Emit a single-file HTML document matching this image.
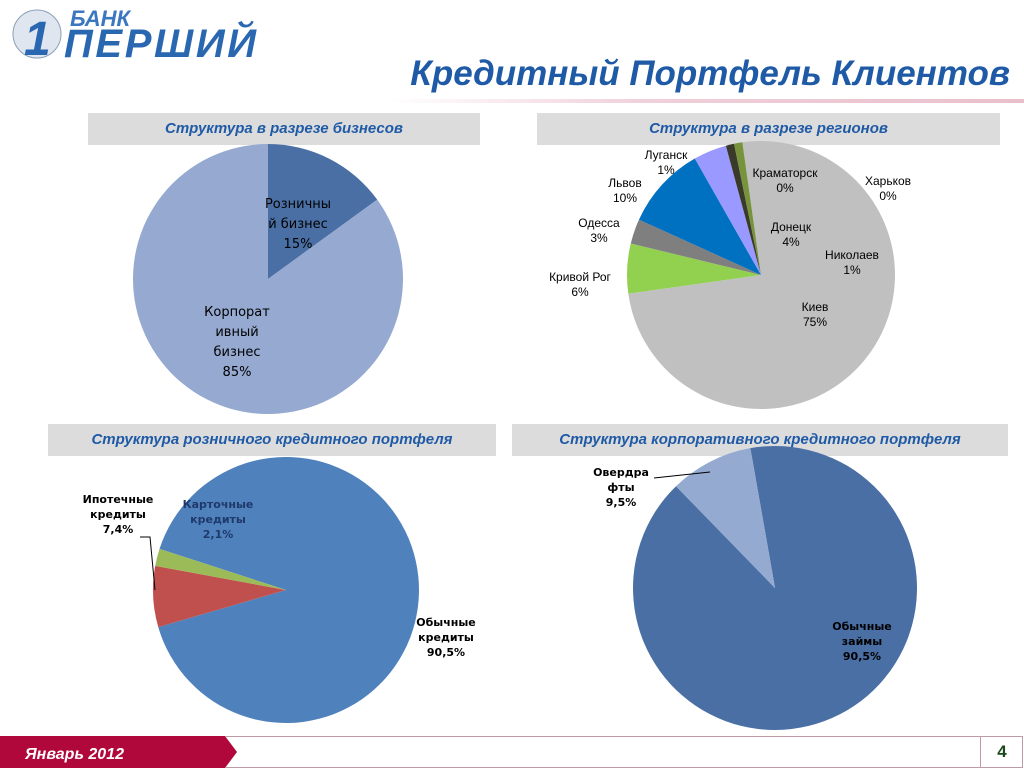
<!DOCTYPE html>
<html><head><meta charset="utf-8">
<style>
body{margin:0;width:1024px;height:768px;position:relative;background:#fff;font-family:"Liberation Sans",sans-serif;overflow:hidden}
.hdr{position:absolute;background:#dcdcdc;color:#1f5aa6;font-weight:bold;font-style:italic;font-size:15px;text-align:center;line-height:32px}
</style></head><body>
<div style="position:absolute;left:8px;top:2px;width:260px;height:60px">
 <svg width="260" height="60"><circle cx="29" cy="32" r="24" fill="#dfe6ef" stroke="#8aa0b8"/><text x="16" y="53" font-size="48" font-weight="bold" font-style="italic" fill="#2a67b1" font-family="Liberation Sans">1</text>
 <text x="62" y="24" font-size="22" font-weight="bold" font-style="italic" fill="#3b78c0" font-family="Liberation Sans">БАНК</text>
 <text x="56" y="55" font-size="40" font-weight="bold" font-style="italic" fill="#2a67b1" font-family="Liberation Sans" textLength="192">ПЕРШИЙ</text></svg>
</div>
<div style="position:absolute;left:370px;top:54px;width:640px;text-align:right;font-size:35px;font-weight:bold;font-style:italic;color:#1f5aa6">Кредитный Портфель Клиентов</div>
<div style="position:absolute;left:390px;top:99px;width:634px;height:4px;background:linear-gradient(90deg,#fff,#f0d0da 40%,#e8c0cc)"></div>
<div class="hdr" style="left:88px;top:113px;width:392px">Структура в разрезе бизнесов</div>
<div class="hdr" style="left:537px;top:113px;width:463px">Структура в разрезе регионов</div>
<div class="hdr" style="left:48px;top:424px;width:448px">Структура розничного кредитного портфеля</div>
<div class="hdr" style="left:512px;top:424px;width:496px">Структура корпоративного кредитного портфеля</div>
<svg id="charts" width="1024" height="768" style="position:absolute;left:0;top:0" font-family="Liberation Sans"></svg>
<div style="position:absolute;left:0;top:736px;width:237px;height:32px">
 <svg width="237" height="32"><polygon points="0,0 225,0 237,16 225,32 0,32" fill="#b0083a"/><text x="25" y="23" font-size="16" font-weight="bold" font-style="italic" fill="#fff">Январь  2012</text></svg>
</div>
<div style="position:absolute;left:225px;top:736px;width:797px;height:30px;border:1px solid #c09aa6;border-left:none"></div>
<div style="position:absolute;left:980px;top:737px;width:42px;height:30px;border-left:1px solid #c09aa6;text-align:center;font-weight:bold;font-size:17px;line-height:30px;color:#1a4a1a">4</div>
<script>
const bizValues=[15,85];
const bizColors=['#4a6fa5','#95a9d1'];
const regionNames=['Киев','Кривой Рог','Одесса','Львов','Донецк','Луганск','Николаев'];
const regionValues=[75,6,3,10,4,1,1];
const regionColors=['#c0c0c0','#92d050','#7f7f7f','#0070c0','#9999ff','#3a3a2a','#77933c'];
const retailValues=[90.5,7.4,2.1];
const retailColors=['#4f81bd','#c0504d','#9bbb59'];
const corpValues=[90.5,9.5];
const corpColors=['#4a6fa5','#94aad0'];
const NS='http://www.w3.org/2000/svg';
const svg=document.getElementById('charts');
function pt(cx,cy,r,a){const t=a*Math.PI/180;return [cx+r*Math.sin(t),cy-r*Math.cos(t)];}
function pie(name,cx,cy,r,start,vals,cols){
 const tot=vals.reduce((a,b)=>a+b,0);let a=start;
 vals.forEach((v,i)=>{const sw=v/tot*360;const p1=pt(cx,cy,r,a),p2=pt(cx,cy,r,a+sw);
  const p=document.createElementNS(NS,'path');
  p.setAttribute('d',`M${cx},${cy}L${p1[0]},${p1[1]}A${r},${r} 0 ${sw>180?1:0} 1 ${p2[0]},${p2[1]}Z`);
  p.setAttribute('fill',cols[i]);
  
  
  svg.appendChild(p);a+=sw;});
}
function label(lines,x,y,opt){const t=document.createElementNS(NS,'text');
 t.setAttribute('text-anchor','middle');t.setAttribute('font-size',opt.size||13);t.setAttribute('fill',opt.fill||'#000');
 if(opt.bold)t.setAttribute('font-weight','bold');if(opt.family)t.setAttribute('font-family',opt.family);
 
 
 lines.forEach((l,i)=>{const s=document.createElementNS(NS,'tspan');s.setAttribute('x',x);s.setAttribute('y',y+i*(opt.lh||15));s.textContent=l;t.appendChild(s);});
 svg.appendChild(t);}
pie('business',268,279,135,0,bizValues,bizColors);
pie('region',761,275,134,352,regionValues,regionColors);
pie('retail',286,590,133,288,retailValues,retailColors);
pie('corporate',775,588,142,350,corpValues,corpColors);
const dv="DejaVu Sans";
label(['Розничны','й бизнес',bizValues[0]+'%'],298,208,{size:13,lh:20,family:dv});
label(['Корпорат','ивный','бизнес',bizValues[1]+'%'],237,316,{size:13,lh:20,family:dv});
label(['Луганск','1%'],666,159,{size:12});
label(['Львов','10%'],625,187,{size:12});
label(['Одесса','3%'],599,227,{size:12});
label(['Кривой Рог','6%'],580,281,{size:12});
label(['Краматорск','0%'],785,177,{size:12});
label(['Харьков','0%'],888,185,{size:12});
label(['Донецк','4%'],791,231,{size:12});
label(['Николаев','1%'],852,259,{size:12});
label(['Киев','75%'],815,311,{size:12});
label(['Ипотечные','кредиты','7,4%'],118,503,{size:11,bold:1,family:dv});
label(['Карточные','кредиты','2,1%'],218,508,{size:11,bold:1,family:dv,fill:'#1f3a6a'});
label(['Обычные','кредиты','90,5%'],446,626,{size:11,bold:1,family:dv});
label(['Овердра','фты','9,5%'],621,476,{size:11,bold:1,family:dv});
label(['Обычные','займы','90,5%'],862,630,{size:11,bold:1,family:dv});
const l1=document.createElementNS(NS,'polyline');l1.setAttribute('points','140,537 150,537 155,590');l1.setAttribute('fill','none');l1.setAttribute('stroke','#000');svg.appendChild(l1);
const l2=document.createElementNS(NS,'polyline');l2.setAttribute('points','654,478 710,472');l2.setAttribute('fill','none');l2.setAttribute('stroke','#000');svg.appendChild(l2);
</script>
</body></html>
